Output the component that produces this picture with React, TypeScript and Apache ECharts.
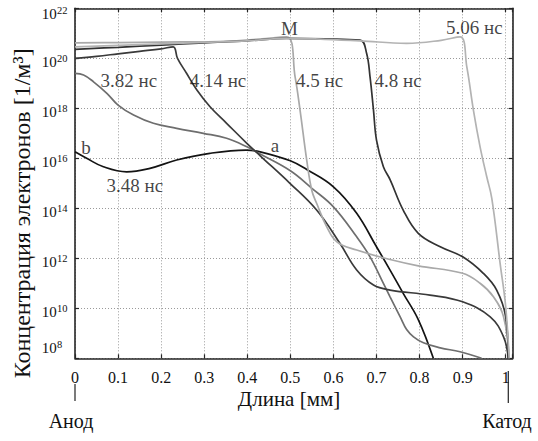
import React, { useEffect, useRef } from 'react';
import * as echarts from 'echarts';

// exponent ticks (log10 of concentration)
const yExponents = [8, 10, 12, 14, 16, 18, 20, 22];

// 3.48 ns
const x348 = [0, 0.027, 0.066, 0.12, 0.174, 0.236, 0.313, 0.397, 0.43, 0.5, 0.538, 0.6, 0.654, 0.7, 0.7315, 0.762, 0.797, 0.832];
const n348 = [16.26, 16.0, 15.66, 15.46, 15.6, 15.93, 16.2, 16.33, 16.26, 15.9, 15.55, 14.86, 13.8, 12.46, 11.53, 10.6, 9.55, 8.0];
// 3.82 ns
const x382 = [0, 0.02, 0.043, 0.074, 0.1, 0.136, 0.182, 0.236, 0.298, 0.352, 0.399, 0.43, 0.5, 0.55, 0.6, 0.654, 0.685, 0.716, 0.7315, 0.755, 0.77, 0.786, 0.809, 0.848, 0.894, 0.944];
const n382 = [19.4, 19.33, 19.06, 18.6, 18.13, 17.73, 17.4, 17.2, 17.0, 16.8, 16.46, 16.17, 15.5, 14.8, 14.06, 12.86, 12.06, 11.0, 10.46, 9.66, 9.15, 8.86, 8.62, 8.42, 8.26, 8.0];
// 4.14 ns
const x414 = [0, 0.05, 0.1, 0.15, 0.2, 0.228, 0.238, 0.259, 0.283, 0.3135, 0.352, 0.399, 0.43, 0.499, 0.561, 0.615, 0.654, 0.693, 0.7315, 0.824, 0.9, 0.964, 0.995, 1.006];
const n414 = [20.0, 20.08, 20.18, 20.28, 20.38, 20.46, 20.0, 19.4, 18.73, 18.06, 17.4, 16.6, 16.1, 15.0, 13.93, 12.6, 11.53, 10.93, 10.73, 10.53, 10.26, 9.66, 8.86, 8.0];
// 4.5 ns
const x45 = [0, 0.1, 0.2, 0.3, 0.35, 0.42, 0.4916, 0.511, 0.5225, 0.538, 0.55, 0.561, 0.5845, 0.608, 0.654, 0.7315, 0.797, 0.9, 0.9405, 0.9715, 0.995, 1.008];
const n45 = [20.62, 20.63, 20.65, 20.66, 20.68, 20.76, 20.86, 19.26, 17.93, 15.93, 14.7, 14.2, 13.26, 12.66, 12.33, 11.95, 11.7, 11.4, 11.0, 10.46, 9.66, 8.0];
// 4.8 ns
const x48 = [0, 0.1, 0.2, 0.3, 0.4, 0.4916, 0.58, 0.662, 0.677, 0.685, 0.693, 0.7, 0.716, 0.7315, 0.762, 0.797, 0.848, 0.9, 0.948, 0.979, 1.0, 1.006];
const n48 = [20.36, 20.44, 20.53, 20.62, 20.7, 20.8, 20.78, 20.73, 20.2, 19.26, 17.93, 16.73, 15.66, 15.15, 13.93, 13.0, 12.46, 12.06, 11.4, 10.73, 9.66, 8.0];
// 5.06 ns
const x506 = [0, 0.1, 0.2, 0.3, 0.4, 0.4916, 0.58, 0.662, 0.77, 0.85, 0.894, 0.9097, 0.925, 0.9405, 0.956, 0.9677, 0.987, 1.0, 1.008];
const n506 = [20.46, 20.52, 20.58, 20.64, 20.7, 20.8, 20.76, 20.7, 20.6, 20.72, 20.86, 19.66, 17.93, 16.46, 15.26, 14.4, 11.8, 10.06, 8.0];

const curveColors = ['#141414', '#6e6e6e', '#3a3a3a', '#a9a9a9', '#333333', '#b3b3b3'];

// annotations
const annTexts = ['3.82 нс', '4.14 нс', '4.5 нс', '4.8 нс', '5.06 нс', 'M', 'b', 'a', '3.48 нс'];
const annX = [0.125, 0.332, 0.568, 0.75, 0.927, 0.498, 0.0255, 0.4645, 0.139];
const annY = [19.13, 19.13, 19.13, 19.13, 21.25, 21.2, 16.45, 16.53, 14.93];

const SERIF = '"Liberation Serif", "Times New Roman", Times, serif';

export default function App() {
  const ref = useRef<HTMLDivElement>(null);
  useEffect(() => {
    const chart = echarts.init(ref.current!, null, { renderer: 'svg' });
    const curves = [
      { x: x348, n: n348 },
      { x: x382, n: n382 },
      { x: x414, n: n414 },
      { x: x45, n: n45 },
      { x: x48, n: n48 },
      { x: x506, n: n506 },
    ];
    const gridLine = { show: true, lineStyle: { color: '#9a9a9a', width: 1, type: [1, 2] as any } };
    const axisLine = { show: true, onZero: false, lineStyle: { color: '#262626', width: 1.6 } };
    const tick = { show: true, inside: true, length: 4, lineStyle: { color: '#262626', width: 1.2 } };
    const xFmt = (v: number) => {
      const r = Math.round(v * 10);
      if (Math.abs(v * 10 - r) > 1e-6) return '';
      return String(r / 10);
    };
    const option: any = {
      animation: false,
      backgroundColor: '#fff',
      grid: { left: 75, right: 25.4, top: 8.3, bottom: 82.7, containLabel: false },
      xAxis: [
        {
          type: 'value', min: 0, max: 1.016, interval: 0.1, position: 'bottom',
          axisLine, axisTick: tick, splitLine: gridLine,
          axisLabel: { show: true, margin: 11, fontFamily: SERIF, fontSize: 16, color: '#111', formatter: xFmt, showMaxLabel: true },
        },
        {
          type: 'value', min: 0, max: 1.016, interval: 0.1, position: 'top',
          axisLine, axisTick: tick, splitLine: { show: false }, axisLabel: { show: false },
        },
      ],
      yAxis: [
        {
          type: 'value', min: 8, max: 22, interval: 2, position: 'left',
          axisLine, axisTick: tick, splitLine: gridLine, axisLabel: { show: false },
        },
        {
          type: 'value', min: 8, max: 22, interval: 2, position: 'right',
          axisLine, axisTick: tick, splitLine: { show: false }, axisLabel: { show: false },
        },
      ],
      series: [
        ...curves.map((c, i) => ({
          type: 'line',
          data: c.x.map((x, j) => [x, c.n[j]]),
          showSymbol: false,
          smooth: 0.4,
          clip: true,
          lineStyle: { color: curveColors[i], width: 1.7 },
          z: 3,
          silent: true,
        })),
        {
          type: 'scatter',
          symbol: 'circle',
          symbolSize: 1,
          itemStyle: { color: 'rgba(0,0,0,0)' },
          silent: true,
          z: 5,
          data: annX.map((x, i) => ({ value: [x, annY[i]], label: { formatter: annTexts[i] } })),
          label: { show: true, position: 'inside', fontFamily: SERIF, fontSize: 19, color: '#111' },
        },
      ],
    };
    chart.setOption(option);
    const px0 = chart.convertToPixel({ xAxisIndex: 0 }, 0) as number;
    const px1 = chart.convertToPixel({ xAxisIndex: 0 }, 1.006) as number;
    const pxMid = chart.convertToPixel({ xAxisIndex: 0 }, 0.49) as number;
    const pyMid = chart.convertToPixel({ yAxisIndex: 0 }, 14.4) as number;
    const yLabels: any[] = [];
    yExponents.forEach((e) => {
      const py = chart.convertToPixel({ yAxisIndex: 0 }, e) as number;
      const dBase = e === 22 ? 5.5 : e === 8 ? -10.8 : 3.5;
      const dSup = e === 22 ? 2 : e === 8 ? -14 : 0;
      yLabels.push({ type: 'text', x: 56.7, y: py + dBase, style: { text: '10', fontFamily: SERIF, fontSize: 15, fill: '#111', textAlign: 'right', textVerticalAlign: 'middle' } });
      yLabels.push({ type: 'text', x: 57, y: py + dSup, style: { text: String(e), fontFamily: SERIF, fontSize: 10.5, fill: '#111', textAlign: 'left', textVerticalAlign: 'middle' } });
    });
    chart.setOption({
      graphic: [
        ...yLabels,
        { type: 'line', shape: { x1: px0, y1: 384, x2: px0, y2: 401 }, style: { stroke: '#222', lineWidth: 1.2 } },
        { type: 'line', shape: { x1: px1, y1: 371, x2: px1, y2: 403 }, style: { stroke: '#222', lineWidth: 1.2 } },
        { type: 'text', x: px0 - 4, y: 421, style: { text: 'Анод', fontFamily: SERIF, fontSize: 20, fill: '#111', textAlign: 'center', textVerticalAlign: 'middle' } },
        { type: 'text', x: 507, y: 421, style: { text: 'Катод', fontFamily: SERIF, fontSize: 20, fill: '#111', textAlign: 'center', textVerticalAlign: 'middle' } },
        { type: 'text', x: pxMid + 3, y: 399, style: { text: 'Длина [мм]', fontFamily: SERIF, fontSize: 21, fill: '#111', textAlign: 'center', textVerticalAlign: 'middle' } },
        { type: 'text', x: 22, y: pyMid + 15, rotation: Math.PI / 2, style: { text: 'Концентрация электронов [1/м³]', fontFamily: SERIF, fontSize: 24, fill: '#111', textAlign: 'center', textVerticalAlign: 'middle' } },
      ],
    });
    return () => chart.dispose();
  }, []);
  return <div ref={ref} style={{ position: 'absolute', left: 0, top: 0, width: 538, height: 441 }} />;
}
